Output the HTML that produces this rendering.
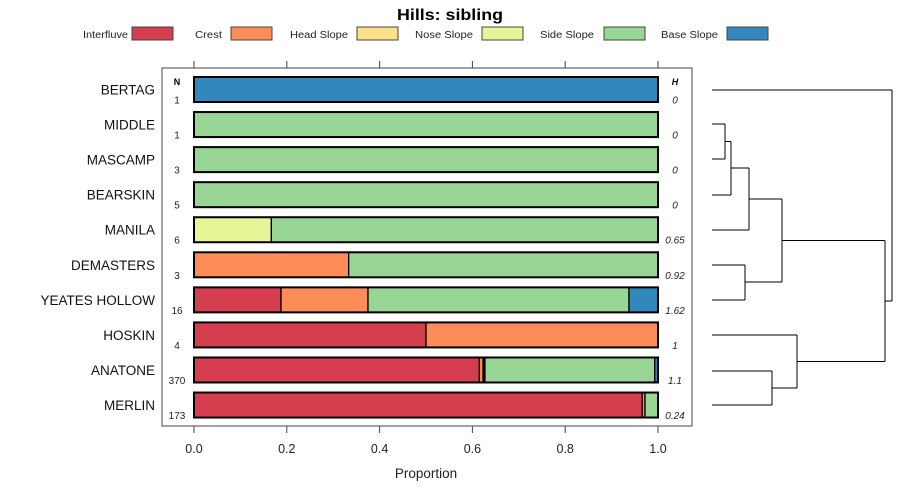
<!DOCTYPE html>
<html><head><meta charset="utf-8"><style>
body{margin:0;background:#fff;}
svg{display:block;font-family:"Liberation Sans",Arial,sans-serif;}
</style></head><body>
<svg id="chart" width="900" height="500" viewBox="0 0 900 500" xmlns="http://www.w3.org/2000/svg"></svg>
<script>
const categories = ["BERTAG","MIDDLE","MASCAMP","BEARSKIN","MANILA","DEMASTERS","YEATES HOLLOW","HOSKIN","ANATONE","MERLIN"];
const seriesNames = ["Interfluve","Crest","Head Slope","Nose Slope","Side Slope","Base Slope"];
const interfluve = [0,0,0,0,0,0,0.1875,0.5,0.615,0.966];
const crest      = [0,0,0,0,0,0.3333,0.1875,0.5,0.008,0.006];
const headSlope  = [0,0,0,0,0,0,0,0,0.002,0];
const noseSlope  = [0,0,0,0,0.1667,0,0,0,0.002,0];
const sideSlope  = [0,1,1,1,0.8333,0.6667,0.5625,0,0.366,0.028];
const baseSlope  = [1,0,0,0,0,0,0.0625,0,0.007,0];
const nLabels = ["1","1","3","5","6","3","16","4","370","173"];
const hLabels = ["0","0","0","0","0.65","0.92","1.62","1","1.1","0.24"];
const xTicks = [0,0.2,0.4,0.6,0.8,1.0];
const xTickLabels = ["0.0","0.2","0.4","0.6","0.8","1.0"];
const colors = ["#d53e4f","#fc8d59","#fee08b","#e6f598","#99d594","#3288bd"];

const svg = document.getElementById('chart');
const NS = "http://www.w3.org/2000/svg";
function mk(tag, attrs, parent){const e=document.createElementNS(NS,tag);for(const k in attrs)e.setAttribute(k,attrs[k]);(parent||svg).appendChild(e);return e;}
const x = v => 194 + v*464;
const y = i => 89.5 + i*35.06;

let t = mk('text',{x:450,y:20,'text-anchor':'middle','font-size':16,'font-weight':'bold',fill:'#000',textLength:106,lengthAdjust:'spacingAndGlyphs'});
t.textContent = "Hills: sibling";



// legend
const legTextX = [83,195,290,415,540,661];
const legTextW = [45,27,58,58,54,57];
const legBoxX = [132,231,357,482,604,727];
seriesNames.forEach((n,k)=>{
  const g = mk('g',{});
  
  
  const tt = mk('text',{x:legTextX[k],y:38,'font-size':10,fill:'#222',textLength:legTextW[k],lengthAdjust:'spacingAndGlyphs'},g);
  tt.textContent = n;
  mk('rect',{x:legBoxX[k],y:27,width:41,height:13,fill:colors[k],stroke:'#444','stroke-width':1},g);
});

// panel frame
const frame = mk('rect',{x:162,y:68,width:530,height:358,fill:'none',stroke:'#444','stroke-width':1});



xTicks.forEach((v,k)=>{
  mk('line',{x1:x(v),x2:x(v),y1:426,y2:433,stroke:'#444'});
  mk('line',{x1:x(v),x2:x(v),y1:61,y2:68,stroke:'#444'});
  const l = mk('text',{x:x(v),y:453,'text-anchor':'middle','font-size':12.5,fill:'#222'});
  l.textContent = xTickLabels[k];
  
  
});
const xt = mk('text',{x:426,y:478,'text-anchor':'middle','font-size':13.5,fill:'#222'});
xt.textContent = "Proportion";



let nh = mk('text',{x:177,y:85,'text-anchor':'middle','font-size':9,'font-weight':'bold',fill:'#000'}); nh.textContent="N";
 
let hh = mk('text',{x:675,y:85,'text-anchor':'middle','font-size':9,'font-weight':'bold','font-style':'italic',fill:'#000'}); hh.textContent="H";
 

const series = [interfluve,crest,headSlope,noseSlope,sideSlope,baseSlope];
categories.forEach((c,i)=>{
  const cy = y(i);
  const lab = mk('text',{x:155,y:cy+5,'text-anchor':'end','font-size':13.5,fill:'#111'});
  lab.textContent = c;
  
  
  let acc = 0;
  series.forEach((s,k)=>{
    const v = s[i];
    if(v>0){
      const r = mk('rect',{x:x(acc),y:cy-12.5,width:x(acc+v)-x(acc),height:25,fill:colors[k],stroke:'#000','stroke-width':1.3});
      
      
    }
    acc += v;
  });
  mk('rect',{x:x(0),y:cy-12.5,width:x(1)-x(0),height:25,fill:'none',stroke:'#000','stroke-width':2});
  const nl = mk('text',{x:177,y:cy+14,'text-anchor':'middle','font-size':10,fill:'#222'});
  nl.textContent = nLabels[i];
  
  
  const hl = mk('text',{x:675,y:cy+14,'text-anchor':'middle','font-size':10,'font-style':'italic',fill:'#222'});
  hl.textContent = hLabels[i];
  
  
});

// dendrogram
const dg = mk('g',{fill:'none',stroke:'#000','stroke-width':1});


const segs = [
 [712,124,725,124],[712,159,725,159],[725,124,725,159],
 [725,141.5,731,141.5],[712,195,731,195],[731,141.5,731,195],
 [731,168,749,168],[712,230,749,230],[749,168,749,230],
 [712,265,745,265],[712,300,745,300],[745,265,745,300],
 [749,199,782,199],[745,282,782,282],[782,199,782,282],
 [712,371,772,371],[712,405,772,405],[772,371,772,405],
 [712,335,797,335],[772,388,797,388],[797,335,797,388],
 [782,240.5,885,240.5],[797,361.5,885,361.5],[885,240.5,885,361.5],
 [712,90,892,90],[885,301,892,301],[892,90,892,301]
];
segs.forEach(s=>mk('line',{x1:s[0],y1:s[1],x2:s[2],y2:s[3]},dg));
</script>
</body></html>
